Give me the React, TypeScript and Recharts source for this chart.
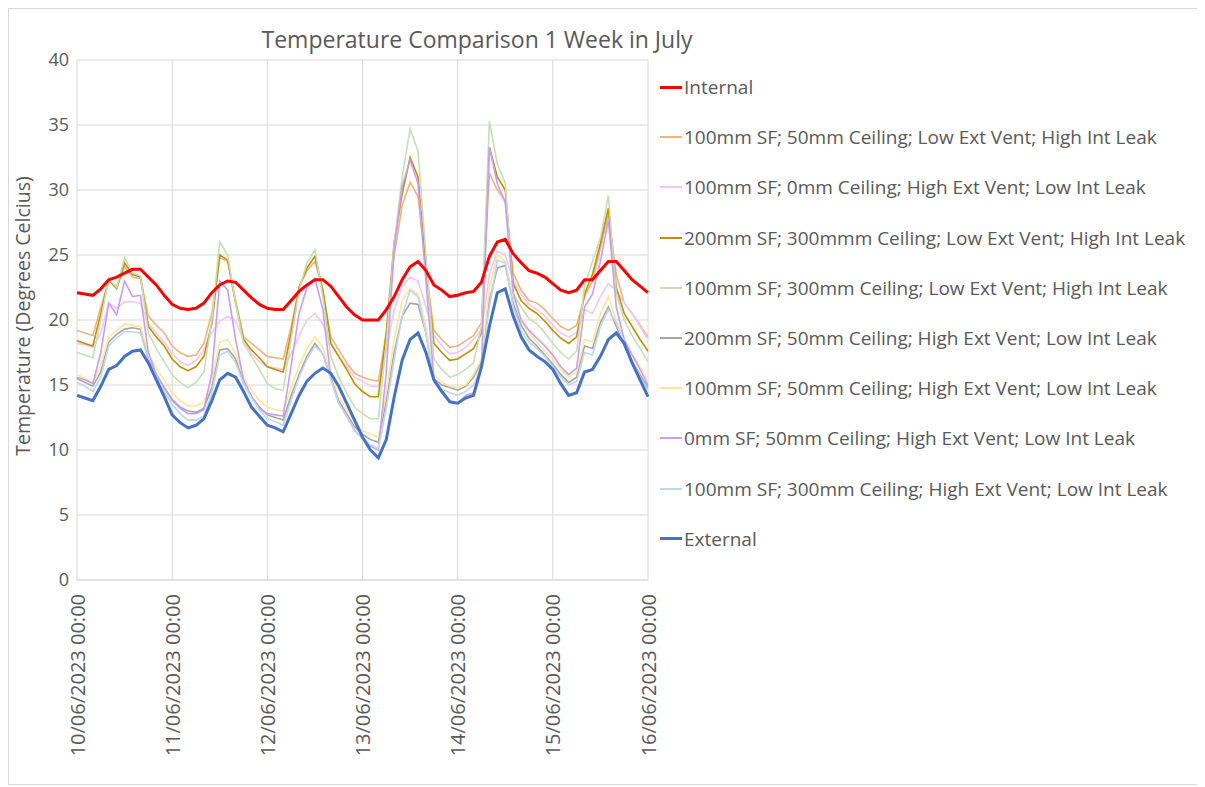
import React from "react";
import { LineChart, Line, XAxis, YAxis, CartesianGrid } from "recharts";

// hours since 10/06/2023 00:00 (2-hour steps)
const hours = [
  0, 2, 4, 6, 8, 10, 12, 14, 16, 18, 20, 22,
  24, 26, 28, 30, 32, 34, 36, 38, 40, 42, 44, 46,
  48, 50, 52, 54, 56, 58, 60, 62, 64, 66, 68, 70,
  72, 74, 76, 78, 80, 82, 84, 86, 88, 90, 92, 94,
  96, 98, 100, 102, 104, 106, 108, 110, 112, 114, 116, 118,
  120, 122, 124, 126, 128, 130, 132, 134, 136, 138, 140, 142,
  144,
];

const tickHours = [0, 24, 48, 72, 96, 120, 144];
const tickLabels = [
  "10/06/2023 00:00",
  "11/06/2023 00:00",
  "12/06/2023 00:00",
  "13/06/2023 00:00",
  "14/06/2023 00:00",
  "15/06/2023 00:00",
  "16/06/2023 00:00",
];
const yTicks = [0, 5, 10, 15, 20, 25, 30, 35, 40];

const internal = [
  22.1, 22.0, 21.9, 22.4, 23.1, 23.3, 23.6, 23.9, 23.9, 23.3, 22.7, 21.9,
  21.2, 20.9, 20.8, 20.9, 21.3, 22.1, 22.7, 23.0, 22.9, 22.3, 21.7, 21.2,
  20.9, 20.8, 20.8, 21.5, 22.2, 22.7, 23.1, 23.1, 22.6, 21.8, 21.0, 20.4,
  20.0, 20.0, 20.0, 20.8, 21.8, 23.1, 24.1, 24.5, 23.8, 22.7, 22.3, 21.8,
  21.9, 22.1, 22.2, 22.9, 24.9, 26.0, 26.2, 25.1, 24.4, 23.8, 23.6, 23.3,
  22.8, 22.3, 22.1, 22.3, 23.1, 23.1, 23.8, 24.5, 24.5, 23.8, 23.1, 22.6,
  22.1,
];

const s1 = [
  19.2, 19.0, 18.8, 21.0, 23.0, 22.6, 24.1, 23.3, 23.2, 20.3, 19.6, 19.0,
  18.0, 17.5, 17.2, 17.3, 18.2, 20.5, 24.8, 24.5, 21.5, 18.7, 18.2, 17.7,
  17.2, 17.1, 17.0, 19.5, 22.5, 23.8, 24.5, 22.3, 18.7, 17.7, 16.7, 15.9,
  15.6, 15.4, 15.3, 19.0, 25.0, 28.8, 30.6, 29.5, 24.0, 19.2, 18.5, 17.9,
  18.0, 18.4, 18.8, 19.8, 31.3, 30.0, 29.2, 23.6, 22.3, 21.5, 21.3, 20.8,
  20.1, 19.5, 19.2, 19.6, 21.8, 23.0, 25.5, 28.2, 23.5, 21.3, 20.5, 19.6,
  18.7,
];

const s2 = [
  18.2, 18.1, 17.9, 19.0, 21.3, 20.9, 21.4, 21.4, 21.3, 19.7, 19.0, 18.3,
  17.4, 16.8, 16.5, 16.9, 17.7, 19.0, 19.9, 20.3, 19.9, 18.5, 17.4, 16.8,
  16.4, 16.3, 16.2, 17.4, 18.8, 20.0, 20.5, 19.7, 18.2, 17.2, 16.4, 15.6,
  15.3, 14.9, 14.9, 17.7, 20.8, 22.6, 23.3, 23.0, 21.0, 18.8, 18.0, 17.4,
  17.5, 17.9, 18.5, 19.2, 23.5, 25.3, 25.0, 23.0, 22.0, 21.2, 20.8, 20.3,
  19.6, 19.0, 18.7, 19.0, 20.8, 20.5, 21.8, 22.8, 22.3, 21.3, 20.5, 19.5,
  18.5,
];

const s3 = [
  18.4, 18.2, 18.0, 20.5, 23.1, 22.4, 24.4, 23.5, 23.3, 19.5, 18.7, 18.0,
  17.0, 16.4, 16.1, 16.4, 17.2, 19.7, 25.0, 24.6, 21.3, 18.5, 17.7, 17.1,
  16.4, 16.2, 16.0, 19.0, 22.5, 24.0, 24.9, 22.3, 18.2, 17.2, 16.2, 15.1,
  14.5, 14.1, 14.1, 19.0, 26.0, 29.7, 32.5, 31.0, 24.0, 18.2, 17.5, 16.9,
  17.0, 17.4, 17.8, 19.0, 33.3, 31.0, 30.0, 22.8, 21.5, 20.9, 20.5, 19.9,
  19.2, 18.6, 18.2, 18.7, 22.0, 23.5, 25.9, 28.6, 22.5, 20.5, 19.5, 18.5,
  17.6,
];

const s4 = [
  17.5, 17.3, 17.1, 20.0, 23.2, 22.5, 24.8, 23.6, 23.4, 19.0, 17.8, 16.8,
  15.8, 15.2, 14.8, 15.2, 16.0, 20.0, 26.0, 25.0, 21.3, 18.2, 17.2, 16.2,
  15.1, 14.7, 14.6, 18.5, 22.3, 24.4, 25.4, 21.8, 17.2, 15.6, 14.4, 13.3,
  12.8, 12.4, 12.4, 18.2, 25.9, 31.0, 34.7, 33.0, 25.0, 17.0, 16.2, 15.6,
  15.8, 16.2, 16.7, 19.5, 35.3, 32.0, 30.5, 22.0, 21.0, 20.1, 19.7, 19.0,
  18.2, 17.5, 17.0, 17.6, 22.6, 24.5, 26.3, 29.6, 22.0, 20.0, 18.8, 17.8,
  16.8,
];

const s5 = [
  15.5, 15.2, 14.9, 16.0, 18.3, 18.9, 19.3, 19.4, 19.3, 17.0, 15.8, 14.8,
  13.9, 13.3, 13.0, 12.9, 13.2, 14.8, 17.7, 17.8, 17.0, 15.2, 14.1, 13.3,
  12.7, 12.5, 12.3, 14.2, 15.8, 17.2, 18.2, 17.4, 15.6, 13.8, 12.8, 11.8,
  11.2, 10.8, 10.6, 13.8, 17.5, 20.3, 21.3, 21.2, 19.0, 15.5, 15.0, 14.8,
  14.6, 14.9, 15.6, 16.8, 21.5, 24.0, 24.2, 21.3, 19.6, 18.6, 18.0, 17.3,
  16.6, 15.8, 15.2, 15.6, 18.0, 17.8, 19.8, 21.0, 19.5, 18.0, 16.8, 15.8,
  14.8,
];

const s6 = [
  15.8, 15.5, 15.2, 16.5, 18.7, 19.2, 19.7, 19.6, 19.5, 17.4, 16.3, 15.4,
  14.4, 13.8, 13.4, 13.4, 13.7, 15.4, 18.3, 18.5, 17.4, 15.6, 14.6, 13.8,
  13.3, 13.1, 13.0, 14.8, 16.5, 17.8, 18.7, 17.9, 15.9, 14.1, 13.1, 12.1,
  11.5, 11.2, 11.0, 14.5, 18.5, 21.5, 22.4, 22.0, 19.5, 15.8, 15.2, 14.9,
  14.8, 15.0, 15.8, 17.0, 22.5, 25.0, 24.5, 21.8, 20.0, 19.0, 18.3, 17.6,
  17.0, 16.2, 15.6, 16.0, 18.5, 18.3, 20.5, 21.8, 20.0, 18.5, 17.4, 16.4,
  15.3,
];

const s7 = [
  15.6, 15.4, 15.1, 17.5, 21.3, 20.4, 23.0, 21.8, 21.9, 17.5, 15.8, 14.8,
  13.8, 13.2, 12.8, 12.8, 13.1, 15.9, 23.0, 22.3, 18.5, 15.4, 14.1, 13.2,
  12.8, 12.7, 12.6, 16.5, 20.5, 22.5, 23.2, 20.8, 15.6, 13.6, 12.6, 11.5,
  10.9, 10.3, 10.0, 16.0, 25.5, 30.3, 32.3, 30.5, 23.0, 15.5, 14.6, 13.8,
  13.6, 14.2, 14.4, 16.5, 33.3, 30.5, 29.0, 22.1, 20.0, 19.2, 18.6, 18.0,
  17.3, 16.4, 15.8, 16.3, 21.0, 22.0, 24.5, 27.7, 21.0, 18.5, 17.3, 16.2,
  15.0,
];

const s8 = [
  15.2, 14.9, 14.5, 15.6, 18.0, 18.6, 19.1, 19.1, 19.0, 16.9, 15.6, 14.5,
  13.5, 12.8, 12.3, 12.3, 12.6, 14.4, 17.3, 17.6, 16.7, 15.1, 14.0, 13.1,
  12.4, 12.2, 11.9, 13.8, 15.6, 17.0, 18.0, 17.4, 15.4, 13.6, 12.6, 11.5,
  10.9, 10.4, 10.1, 13.2, 17.0, 20.3, 22.3, 21.8, 19.0, 15.2, 14.7, 14.4,
  14.2, 14.5, 15.0, 16.5, 21.0, 24.6, 24.4, 21.0, 19.2, 18.3, 17.8, 17.2,
  16.4, 15.6, 15.0, 15.3, 17.5, 17.3, 19.5, 20.8, 19.8, 18.3, 16.8, 15.6,
  14.6,
];

const external = [
  14.2, 14.0, 13.8, 14.9, 16.2, 16.5, 17.2, 17.6, 17.7, 16.7, 15.4, 14.1,
  12.7, 12.1, 11.7, 11.9, 12.4, 13.8, 15.4, 15.9, 15.6, 14.5, 13.3, 12.6,
  11.9, 11.7, 11.4, 12.8, 14.2, 15.3, 15.9, 16.3, 15.9, 14.9, 13.6, 12.3,
  11.0, 10.0, 9.4, 10.8, 14.1, 16.9, 18.5, 19.0, 17.5, 15.4, 14.5, 13.7,
  13.6, 14.0, 14.2, 16.4, 19.5, 22.1, 22.4, 20.3, 18.7, 17.7, 17.2, 16.8,
  16.2, 15.1, 14.2, 14.4, 16.0, 16.2, 17.2, 18.5, 19.0, 18.2, 16.7, 15.4,
  14.1,
];

const seriesNames = [
  "Internal",
  "100mm SF; 50mm Ceiling; Low Ext Vent; High Int Leak",
  "100mm SF; 0mm Ceiling; High Ext Vent; Low Int Leak",
  "200mm SF; 300mmm Ceiling; Low Ext Vent; High Int Leak",
  "100mm SF; 300mm Ceiling; Low Ext Vent; High Int Leak",
  "200mm SF; 50mm Ceiling; High Ext Vent; Low Int Leak",
  "100mm SF; 50mm Ceiling; High Ext Vent; Low Int Leak",
  "0mm SF; 50mm Ceiling; High Ext Vent; Low Int Leak",
  "100mm SF; 300mm Ceiling; High Ext Vent; Low Int Leak",
  "External",
];
const seriesKeys = ["internal", "s1", "s2", "s3", "s4", "s5", "s6", "s7", "s8", "external"];
const seriesColors = [
  "#FF0000",
  "#F4B183",
  "#F4C6F4",
  "#BF9000",
  "#C5E0B4",
  "#A5A5A5",
  "#FFE699",
  "#C99CF8",
  "#BDD7EE",
  "#4472C4",
];
const seriesWidths = [3, 1.6, 1.6, 1.6, 1.6, 1.6, 1.6, 1.6, 1.6, 3];

const seriesValues = [internal, s1, s2, s3, s4, s5, s6, s7, s8, external];

const data = hours.map((h, i) => {
  const row: Record<string, number> = { h };
  seriesKeys.forEach((k, j) => {
    row[k] = seriesValues[j][i];
  });
  return row;
});

const FONT = "'Open Sans', 'Noto Sans', sans-serif";
const TEXT = "#595959";

const XTick = (props: any) => {
  const { x, y, payload } = props;
  const idx = tickHours.indexOf(payload.value);
  const label = idx >= 0 ? tickLabels[idx] : "";
  const ty = y + 6;
  return (
    <text
      x={x}
      y={ty}
      transform={`rotate(-90 ${x} ${ty})`}
      textAnchor="end"
      dominantBaseline="central"
      fill={TEXT}
      fontSize={20}
      fontFamily={FONT}
    >
      {label}
    </text>
  );
};

// draw order: lighter scenario lines first, then external, internal on top
const drawOrder = [1, 2, 3, 4, 5, 6, 7, 8, 9, 0];

export default function App() {
  return (
    <div style={{ position: "relative", width: 1197, height: 777, fontFamily: FONT }}>
      <div
        style={{
          position: "absolute",
          left: 0,
          top: 0,
          width: 1197,
          height: 777,
          border: "1px solid #D9D9D9",
          boxSizing: "border-box",
        }}
      />
      <div
        style={{
          position: "absolute",
          left: 169,
          top: 15,
          width: 600,
          textAlign: "center",
          fontSize: 23,
          lineHeight: "32px",
          color: TEXT,
        }}
      >
        Temperature Comparison 1 Week in July
      </div>
      <div
        style={{
          position: "absolute",
          left: 14,
          top: 308,
          transform: "translate(-50%, -50%) rotate(-90deg)",
          whiteSpace: "nowrap",
          fontSize: 19.5,
          color: TEXT,
        }}
      >
        Temperature (Degrees Celcius)
      </div>
      <div style={{ position: "absolute", left: 0, top: 0 }}>
        <LineChart
          width={1190}
          height={770}
          data={data}
          margin={{ top: 52, right: 550, bottom: 8, left: 29 }}
        >
          <CartesianGrid stroke="#D9D9D9" strokeWidth={1} />
          <XAxis
            dataKey="h"
            type="number"
            domain={[0, 144]}
            ticks={tickHours}
            height={190}
            tickLine={false}
            axisLine={{ stroke: "#D9D9D9" }}
            tick={<XTick />}
            interval={0}
          />
          <YAxis
            type="number"
            domain={[0, 40]}
            ticks={yTicks}
            width={40}
            tickLine={false}
            axisLine={false}
            tick={{ fill: TEXT, fontSize: 18, fontFamily: FONT }}
            interval={0}
          />
          {drawOrder.map((j) => (
            <Line
              key={seriesKeys[j]}
              type="linear"
              dataKey={seriesKeys[j]}
              stroke={seriesColors[j]}
              strokeWidth={seriesWidths[j]}
              dot={false}
              activeDot={false}
              isAnimationActive={false}
            />
          ))}
        </LineChart>
      </div>
      <div style={{ position: "absolute", left: 652, top: 54 }}>
        {seriesNames.map((name, j) => (
          <div
            key={name}
            style={{ height: 50.2, display: "flex", alignItems: "center", whiteSpace: "nowrap" }}
          >
            <div
              style={{
                width: 22,
                height: seriesWidths[j] > 2 ? 3 : 2,
                background: seriesColors[j],
                marginRight: 2,
              }}
            />
            <span style={{ fontSize: 19, color: TEXT }}>{name}</span>
          </div>
        ))}
      </div>
    </div>
  );
}
